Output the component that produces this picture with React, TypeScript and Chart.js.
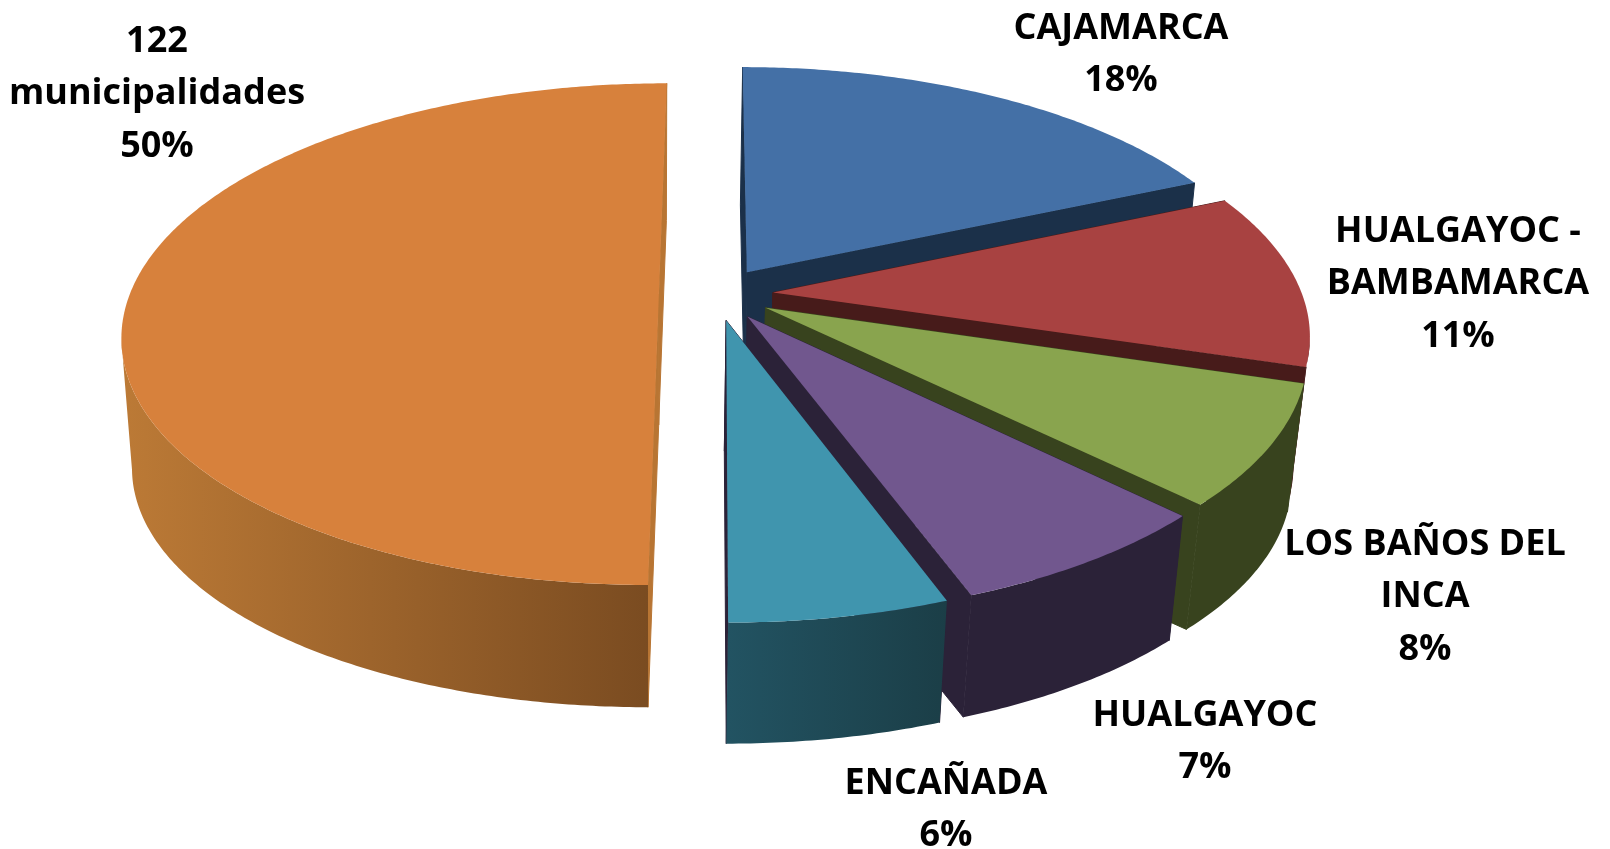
import React, { useEffect, useRef } from "react";
import { Chart, registerables } from "chart.js";

Chart.register(...registerables);

const categories = [
  "CAJAMARCA",
  "HUALGAYOC - BAMBAMARCA",
  "LOS BAÑOS DEL INCA",
  "HUALGAYOC",
  "ENCAÑADA",
  "122 municipalidades",
];
const shares = [18.45, 11.25, 7.7, 7.0, 5.6, 50];
const labelLines = [
  ["CAJAMARCA"],
  ["HUALGAYOC -", "BAMBAMARCA"],
  ["LOS BAÑOS DEL", "INCA"],
  ["HUALGAYOC"],
  ["ENCAÑADA"],
  ["122", "municipalidades"],
];

const topColors = ["#4470A6", "#A84241", "#89A44E", "#71578E", "#4095AE", "#D7813C"];
const faceColors = ["#1B3049", "#471B1A", "#38431E", "#2B2238", "#2B2238", "#B87533"];
const sideFrom = ["#1B3049", "#471B1A", "#38431E", "#2B2238", "#225362", "#BC7A36"];
const sideTo = ["#1B3049", "#471B1A", "#38431E", "#2B2238", "#1B3E47", "#784A20"];
const labelCenters = [
  [1121, 28.5],
  [1458, 231.5],
  [1425, 544.5],
  [1205, 715.5],
  [946, 783.5],
  [157, 41.5],
];

// View of the tilted 3D pie
const VIEW = {
  cx: 716,
  cy: 294,
  radius: 529,
  tilt: 0.462,
  persp: 0.16,
  depth: 131,
  depthY: 0.97,
  vanishX: 652,
  depthLeft: 0.98,
  depthRight: 0.975,
};
const FONT_SIZE = 36;
const LINE_GAP = 52.5;

type P = [number, number];

const pie3d = {
  id: "pie3d",
  beforeDatasetsDraw(chart: any) {
    const ctx: CanvasRenderingContext2D = chart.ctx;
    const arcs = chart.getDatasetMeta(0).data as any[];
    const project = (u: number, v: number): P => {
      const s = 1 / (1 - (VIEW.persp * v) / VIEW.radius);
      return [VIEW.cx + u * s, VIEW.cy + VIEW.tilt * v * s];
    };
    const lower = (p: P): P => [
      VIEW.vanishX + (p[0] - VIEW.vanishX) * (p[0] < VIEW.vanishX ? VIEW.depthLeft : VIEW.depthRight),
      VIEW.cy + (p[1] - VIEW.cy) * VIEW.depthY + VIEW.depth,
    ];
    const trace = (pts: P[]) => {
      ctx.beginPath();
      pts.forEach((p, i) => (i ? ctx.lineTo(p[0], p[1]) : ctx.moveTo(p[0], p[1])));
      ctx.closePath();
    };
    const fill = (pts: P[], style: string | CanvasGradient) => {
      trace(pts);
      ctx.fillStyle = style;
      ctx.fill();
    };
    const fillEdged = (pts: P[], style: string) => {
      fill(pts, style);
      ctx.strokeStyle = style;
      ctx.lineWidth = 1;
      ctx.stroke();
    };

    const slices = arcs.map((a, i) => {
      const scale = VIEW.radius / a.outerRadius;
      const from = a.startAngle + Math.PI / 2;
      const to = a.endAngle + Math.PI / 2;
      const mid = (from + to) / 2;
      const off = a.options.offset * scale;
      const ou = off * Math.sin(mid);
      const ov = -off * Math.cos(mid);
      const rim: P[] = [];
      const steps = Math.max(8, Math.ceil((to - from) / 0.01));
      for (let k = 0; k <= steps; k++) {
        const t = from + ((to - from) * k) / steps;
        rim.push(project(ou + VIEW.radius * Math.sin(t), ov - VIEW.radius * Math.cos(t)));
      }
      return { i, ov, apex: project(ou, ov), rim };
    });

    slices
      .slice()
      .sort((a, b) => a.ov - b.ov)
      .forEach(({ i, apex, rim }) => {
        const lowApex = lower(apex);
        const first = rim[0];
        const last = rim[rim.length - 1];
        fillEdged([apex, first, lower(first), lowApex], faceColors[i]);
        fillEdged([apex, last, lower(last), lowApex], faceColors[i]);
        // only the part of the rim that faces the viewer: it runs right to left on screen
        const front = rim.filter((p, k) => {
          const prev = rim[Math.max(k - 1, 0)];
          const next = rim[Math.min(k + 1, rim.length - 1)];
          return next[0] < prev[0];
        });
        if (front.length > 1) {
          const xs = rim.map((p) => p[0]);
          const g = ctx.createLinearGradient(Math.min(...xs), 0, Math.max(...xs), 0);
          g.addColorStop(0, sideFrom[i]);
          g.addColorStop(1, sideTo[i]);
          fill([...front, ...front.map(lower).reverse()], g);
        }
        fill([apex, ...rim], arcs[i].options.backgroundColor);
      });
    return false;
  },
  afterDraw(chart: any) {
    const ctx: CanvasRenderingContext2D = chart.ctx;
    ctx.save();
    ctx.font = `700 ${FONT_SIZE}px "Open Sans"`;
    ctx.fillStyle = "#000000";
    ctx.textAlign = "center";
    ctx.textBaseline = "middle";
    labelLines.forEach((lines, i) => {
      const all = [...lines, `${Math.round(shares[i])}%`];
      all.forEach((line, j) => ctx.fillText(line, labelCenters[i][0], labelCenters[i][1] + j * LINE_GAP));
    });
    ctx.restore();
  },
};

export default function App() {
  const ref = useRef<HTMLCanvasElement>(null);
  useEffect(() => {
    const chart = new Chart(ref.current as HTMLCanvasElement, {
      type: "pie",
      data: {
        labels: categories,
        datasets: [{ data: shares, backgroundColor: topColors, borderWidth: 0, offset: 43.5 }],
      },
      options: {
        responsive: false,
        animation: false,
        layout: { padding: 0 },
        plugins: { legend: { display: false }, tooltip: { enabled: false } },
      },
      plugins: [pie3d],
    } as any);
    return () => chart.destroy();
  }, []);
  return (
    <div style={{ position: "fixed", left: 0, top: 0, width: 1610, height: 849, background: "#ffffff" }}>
      <canvas ref={ref} width={1610} height={849} style={{ display: "block" }} />
    </div>
  );
}
